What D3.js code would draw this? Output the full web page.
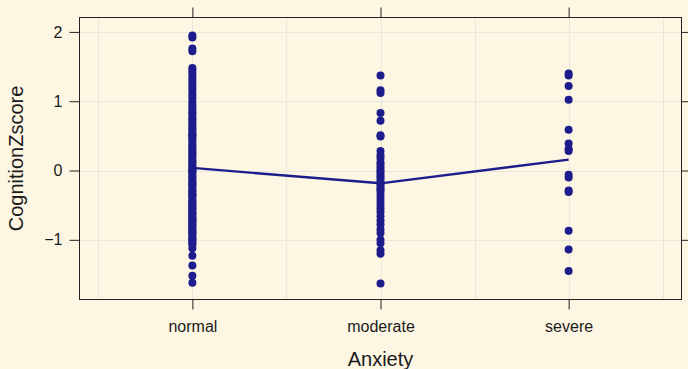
<!DOCTYPE html>
<html>
<head>
<meta charset="utf-8">
<script src="https://cdn.jsdelivr.net/npm/d3@7"></script>
<style>
  body { margin: 0; background: #fdf6e3; }
  svg { display: block; font-family: "Liberation Sans", Arial, sans-serif; }
</style>
</head>
<body>
<figure id="plot" style="margin:0"></figure>
<script>
const categories = ["normal", "moderate", "severe"];

const normalScores = [
  1.95, 1.92, 1.76, 1.72,
  1.48, 1.45, 1.41, 1.38, 1.33, 1.29, 1.25, 1.21, 1.17, 1.12,
  1.08, 1.04, 0.99, 0.95, 0.92, 0.88, 0.84, 0.81, 0.77, 0.74,
  0.71, 0.68, 0.64, 0.61, 0.58, 0.55, 0.52, 0.49, 0.46, 0.43,
  0.40, 0.37, 0.35, 0.32, 0.29, 0.26, 0.24, 0.21, 0.18, 0.15,
  0.13, 0.10, 0.07, 0.05, 0.02, -0.01, -0.03, -0.06, -0.09, -0.11,
  -0.14, -0.17, -0.19, -0.22, -0.25, -0.28, -0.30, -0.33, -0.36, -0.39,
  -0.42, -0.45, -0.48, -0.51, -0.54, -0.57, -0.60, -0.63, -0.66, -0.69,
  -0.72, -0.75, -0.78, -0.81, -0.84, -0.88, -0.91, -0.95, -0.99, -1.03,
  -1.07, -1.12,
  0.50, -0.20, -0.35, -0.45, -0.50, -0.55, -0.62, -0.70, -0.74, -0.80,
  -0.86, -0.90, -0.97, -1.00, -1.05, 0.00,
  -1.23, -1.37, -1.52, -1.62
];

const moderateScores = [
  1.37, 1.16, 1.12, 0.83, 0.72, 0.51, 0.49,
  0.28, 0.22, 0.18, 0.12, 0.08, 0.04, 0.00,
  -0.03, -0.07, -0.10, -0.14, -0.18, -0.20, -0.24, -0.27, -0.30,
  -0.35, -0.40, -0.45, -0.50, -0.55, -0.60, -0.66,
  -0.72, -0.78, -0.85, -0.90, -1.00, -1.05, -1.15, -1.20, -1.63
];

const severeScores = [
  1.40, 1.37, 1.22, 1.02, 0.59, 0.39, 0.31, 0.28,
  -0.06, -0.10, -0.29, -0.31, -0.87, -1.14, -1.45
];

const yTicks = [-1, 0, 1, 2];
const xGrid = [0.5, 1, 1.5, 2, 2.5, 3, 3.5];

const groups = [normalScores, moderateScores, severeScores];

const W = 688, H = 369;
const panel = { left: 79.5, right: 681.5, top: 17.5, bottom: 299.5 };
const ink = "#1c1c8c";
const textCol = "#1a1a1a";

const svg = d3.select("#plot").append("svg")
  .attr("width", W).attr("height", H);

svg.append("rect").attr("width", W).attr("height", H).attr("fill", "#fdf6e3");

const xLin = d3.scaleLinear().domain([0.4, 3.6]).range([panel.left, panel.right]);
const x = d3.scalePoint().domain(categories).range([panel.left, panel.right]).padding(0.6);
const y = d3.scaleLinear().domain([-1.861, 2.208]).range([panel.bottom, panel.top]);

// grid
const grid = svg.append("g").attr("stroke", "#e9e6df").attr("stroke-width", 1);
grid.selectAll("line.v").data(xGrid).enter().append("line")
  .attr("x1", d => Math.round(xLin(d)) + 0.5).attr("x2", d => Math.round(xLin(d)) + 0.5)
  .attr("y1", panel.top).attr("y2", panel.bottom);
grid.selectAll("line.h").data(yTicks).enter().append("line")
  .attr("y1", d => Math.round(y(d)) + 0.5).attr("y2", d => Math.round(y(d)) + 0.5)
  .attr("x1", panel.left).attr("x2", panel.right);

// points
const pts = [];
groups.forEach((g, i) => g.forEach(v => pts.push({ cat: categories[i], v })));
svg.append("g").selectAll("circle").data(pts).enter().append("circle")
  .attr("cx", d => x(d.cat)).attr("cy", d => y(d.v)).attr("r", 4)
  .attr("fill", ink);

// mean line
const means = groups.map((g, i) => ({ cat: categories[i], m: d3.mean(g) }));
svg.append("path").datum(means)
  .attr("fill", "none").attr("stroke", ink).attr("stroke-width", 2.4)
  .attr("d", d3.line().x(d => x(d.cat)).y(d => y(d.m)));

// axes: labels on left/bottom, bare ticks on right/top
const fmt = d => (d < 0 ? "\u2212" + Math.abs(d) : "" + d);
const axL = d3.axisLeft(y).tickValues(yTicks).tickSize(10).tickPadding(7).tickFormat(fmt);
const axR = d3.axisRight(y).tickValues(yTicks).tickSize(10).tickFormat("");
const axB = d3.axisBottom(x).tickSize(10).tickPadding(11);
const axT = d3.axisTop(x).tickSize(10).tickFormat("");

function styleAxis(g) {
  g.select(".domain").remove();
  g.selectAll("line").attr("stroke", "#222");
  g.selectAll("text").attr("fill", textCol).style("font-size", "16px")
    .style("font-family", "'Liberation Sans', Arial, sans-serif");
}
svg.append("g").attr("transform", `translate(${panel.left},0)`).call(axL).call(styleAxis);
svg.append("g").attr("transform", `translate(${panel.right},0)`).call(axR).call(styleAxis);
svg.append("g").attr("transform", `translate(0,${panel.bottom})`).call(axB).call(styleAxis);
svg.append("g").attr("transform", `translate(0,${panel.top})`).call(axT).call(styleAxis);

// panel box
svg.append("rect")
  .attr("x", panel.left).attr("y", panel.top)
  .attr("width", panel.right - panel.left).attr("height", panel.bottom - panel.top)
  .attr("fill", "none").attr("stroke", "#222").attr("stroke-width", 1);

// titles
svg.append("text").attr("x", (panel.left + panel.right) / 2).attr("y", 366)
  .attr("text-anchor", "middle").attr("fill", textCol).style("font-size", "20px")
  .text("Anxiety");
svg.append("text")
  .attr("transform", `translate(23,${(panel.top + panel.bottom) / 2}) rotate(-90)`)
  .attr("text-anchor", "middle").attr("fill", textCol).style("font-size", "20px")
  .text("CognitionZscore");
</script>
</body>
</html>
